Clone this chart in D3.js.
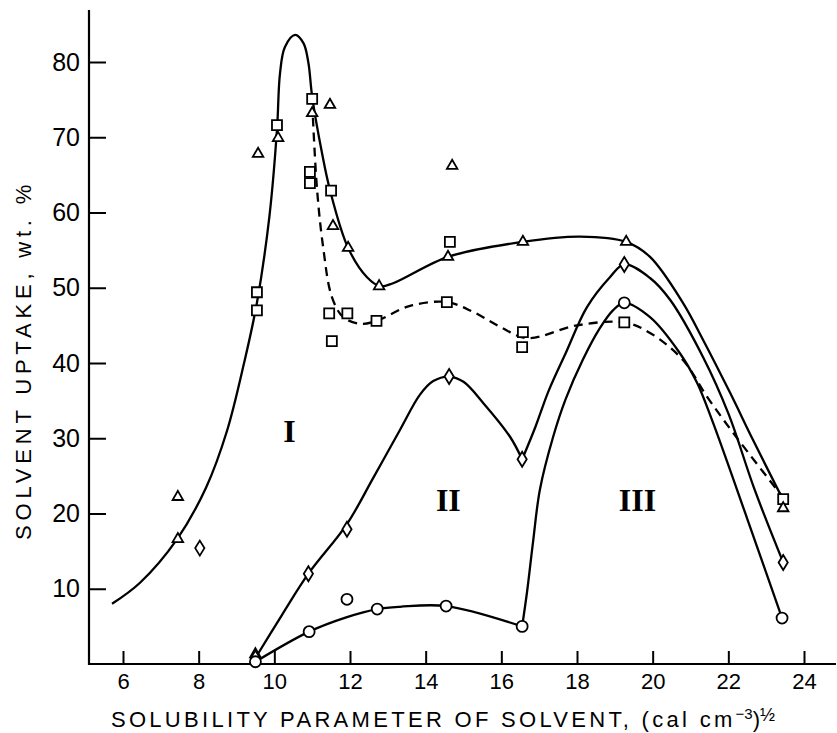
<!DOCTYPE html>
<html lang="en">
  <head>
    <meta charset="utf-8" />
    <title>Solvent uptake vs solubility parameter</title>
    <script src="https://d3js.org/d3.v7.min.js"></script>
    <style>
      body {
        margin: 0;
        background: #fff;
      }

      svg {
        font-family: "Liberation Sans", Arial, sans-serif;
      }

      .axis-line {
        stroke: #000;
        stroke-width: 2.2px;
      }

      .tick line {
        stroke: #000;
        stroke-width: 2px;
      }

      .tick text {
        fill: #000;
      }

      path.curve {
        fill: none;
        stroke: #000;
        stroke-width: 2.3px;
      }

      path.dashed {
        stroke-dasharray: 9 6;
      }

      path.marker {
        fill: #fff;
        stroke: #000;
        stroke-width: 1.8px;
      }

      text.region {
        font-family: "Liberation Serif", "Times New Roman", serif;
        font-weight: bold;
        font-size: 32px;
        text-anchor: middle;
      }
    </style>
  </head>
  <body>
    <svg id="chart" width="837" height="733"></svg>

    <script>
      // ---- data ----
      const xTicks = [6, 8, 10, 12, 14, 16, 18, 20, 22, 24];
      const yTicks = [10, 20, 30, 40, 50, 60, 70, 80];

      // measured points [solubility parameter, uptake wt.%]
      const triangles = [
        [7.45, 22.2], [7.45, 16.6], [9.5, 1.3], [9.57, 67.8], [10.1, 69.9],
        [11.0, 73.2], [11.47, 74.3], [11.55, 58.2], [11.95, 55.3], [12.77, 50.2],
        [14.7, 66.2], [14.59, 54.1], [16.57, 56.1], [19.3, 56.1], [23.45, 20.7]
      ];
      const squares = [
        [9.54, 49.4], [9.54, 47.0], [10.07, 71.6], [11.0, 75.1], [10.94, 65.4],
        [10.94, 63.9], [11.5, 62.9], [11.45, 46.6], [11.52, 42.9], [11.93, 46.6],
        [12.7, 45.6], [14.64, 56.1], [14.56, 48.1], [16.57, 44.1], [16.55, 42.1],
        [19.25, 45.4], [23.45, 21.9]
      ];
      const diamonds = [
        [8.03, 15.4], [9.5, 0.8], [10.9, 12.0], [11.92, 17.9], [14.62, 38.2],
        [16.55, 27.2], [19.25, 53.1], [23.45, 13.5]
      ];
      const circles = [
        [9.5, 0.3], [10.92, 4.3], [11.92, 8.6], [12.72, 7.3], [14.54, 7.7],
        [16.55, 5.0], [19.25, 48.0], [23.42, 6.1]
      ];

      // hand-drawn curves, traced as waypoints
      const curveTri = [
        [5.71, 8.0], [6.45, 10.8], [7.43, 16.6], [8.2, 23.5], [8.75, 31],
        [9.2, 40], [9.54, 48], [9.87, 59.5], [10.07, 71], [10.15, 78.5],
        [10.28, 82], [10.55, 83.6], [10.77, 82.5], [10.9, 79.9], [11.0, 75.4],
        [11.26, 67.9], [11.47, 63], [11.95, 55.3], [12.45, 51.4], [12.8, 50.2],
        [13.14, 50.6], [14.59, 54.1], [16.57, 56.1], [18.08, 56.8], [19.3, 56.1],
        [19.93, 54.1], [20.8, 48], [21.33, 43.1], [22.05, 36.0], [22.65, 29.8],
        [23.45, 21.8]
      ];
      const curveSq = [
        [11.02, 72.6], [11.13, 63], [11.29, 55.4], [11.52, 48.8], [11.82, 46.1],
        [12.3, 45.2], [12.7, 45.6], [13.59, 47.6], [14.55, 48.1], [15.25, 46.8],
        [15.97, 44.8], [16.68, 43.3], [18.0, 45.0], [19.25, 45.4], [19.93, 44.0],
        [20.8, 40.4], [21.44, 35.5], [22.13, 30.7], [23.45, 22.1]
      ];
      const curveDiaLeft = [
        [9.5, 0.8], [10.2, 6.5], [10.9, 12.0], [11.92, 18.6], [12.6, 24.6],
        [13.32, 31.1], [13.85, 35.8], [14.2, 37.6], [14.62, 38.2], [15.0, 37.5],
        [15.52, 34.7], [16.23, 30.2], [16.55, 27.2]
      ];
      const curveDiaRight = [
        [16.55, 27.2], [16.9, 31.5], [17.25, 36.3], [17.7, 41.3], [18.26, 47.4],
        [18.87, 51.4], [19.25, 53.1], [19.93, 51.3], [20.46, 48.4], [21.33, 40.8],
        [22.0, 33.3], [22.7, 23.1], [23.45, 13.5]
      ];
      const curveCirLeft = [
        [9.5, 0.3], [10.92, 4.3], [11.9, 6.2], [12.72, 7.3], [13.32, 7.6],
        [14.54, 7.7], [16.55, 5.0]
      ];
      const curveCirRight = [
        [16.55, 5.0], [16.68, 9.6], [16.84, 16.3], [17.02, 23.2], [17.37, 30.2],
        [17.7, 35.2], [18.16, 40.5], [18.6, 44.6], [18.95, 47.0], [19.25, 48.0],
        [19.93, 46.1], [20.72, 41.3], [21.17, 37.4], [21.57, 32.4], [22.5, 19.3],
        [23.42, 6.1]
      ];

      const regions = [
        { label: "I", x: 10.4, y: 31 },
        { label: "II", x: 14.6, y: 21.8 },
        { label: "III", x: 19.6, y: 21.8 }
      ];

      // ---- scales ----
      const svg = d3.select("#chart");
      const x = d3.scaleLinear().domain([6, 24]).range([123, 804]);
      const y = d3.scaleLinear().domain([0, 80]).range([664, 62]);
      const axisLeftX = 89;

      // ---- axes ----
      svg.append("g")
        .attr("transform", `translate(${axisLeftX},0)`)
        .call(d3.axisLeft(y).tickValues(yTicks).tickSize(-17).tickPadding(9))
        .call((g) => g.select(".domain").remove())
        .call((g) => g.selectAll(".tick text").attr("font-size", 25));

      svg.append("g")
        .attr("transform", `translate(0,${y(0)})`)
        .call(d3.axisBottom(x).tickValues(xTicks).tickSize(-13).tickPadding(9))
        .call((g) => g.select(".domain").remove())
        .call((g) => g.selectAll(".tick text").attr("font-size", 22));

      svg.append("line").attr("class", "axis-line")
        .attr("x1", axisLeftX).attr("x2", axisLeftX)
        .attr("y1", 10).attr("y2", y(0) + 1);
      svg.append("line").attr("class", "axis-line")
        .attr("x1", axisLeftX - 1).attr("x2", 836)
        .attr("y1", y(0)).attr("y2", y(0));

      // axis titles
      const xTitle = svg.append("text")
        .attr("x", 443).attr("y", 727)
        .attr("text-anchor", "middle")
        .attr("font-size", 22)
        .attr("letter-spacing", 3.3);
      xTitle.append("tspan").text("SOLUBILITY PARAMETER OF SOLVENT, (cal cm");
      xTitle.append("tspan").attr("dy", -8).attr("font-size", 15).attr("letter-spacing", 0).text("−3");
      xTitle.append("tspan").attr("dy", 8).attr("letter-spacing", 0).text(")");
      xTitle.append("tspan").attr("dy", -6).attr("font-size", 18).attr("letter-spacing", 0).text("½");

      svg.append("text")
        .attr("transform", `translate(31,360) rotate(-90)`)
        .attr("text-anchor", "middle")
        .attr("font-size", 22)
        .attr("letter-spacing", 4.8)
        .text("SOLVENT UPTAKE, wt. %");

      // ---- curves ----
      const line = d3.line()
        .x((d) => x(d[0]))
        .y((d) => y(d[1]))
        .curve(d3.curveCatmullRom.alpha(0.5));

      [curveTri, curveDiaLeft, curveDiaRight, curveCirLeft, curveCirRight].forEach((c) => {
        svg.append("path").attr("class", "curve").attr("d", line(c));
      });
      svg.append("path").attr("class", "curve dashed").attr("d", line(curveSq));

      // ---- region labels ----
      svg.selectAll("text.region")
        .data(regions)
        .enter()
        .append("text")
        .attr("class", "region")
        .attr("x", (d) => x(d.x))
        .attr("y", (d) => y(d.y))
        .attr("dy", "0.35em")
        .text((d) => d.label);

      // ---- markers ----
      const diamondPath = (w, h) => `M0,${-h}L${w},0L0,${h}L${-w},0Z`;
      const markerSets = [
        { data: squares, path: d3.symbol(d3.symbolSquare, 100)() },
        { data: triangles, path: d3.symbol(d3.symbolTriangle, 48)() },
        { data: diamonds, path: diamondPath(4.6, 7.5) },
        { data: circles, path: d3.symbol(d3.symbolCircle, 95)() }
      ];

      markerSets.forEach((set) => {
        svg.append("g")
          .selectAll("path")
          .data(set.data)
          .enter()
          .append("path")
          .attr("class", "marker")
          .attr("d", set.path)
          .attr("transform", (d) => `translate(${x(d[0])},${y(d[1])})`);
      });
    </script>
  </body>
</html>
